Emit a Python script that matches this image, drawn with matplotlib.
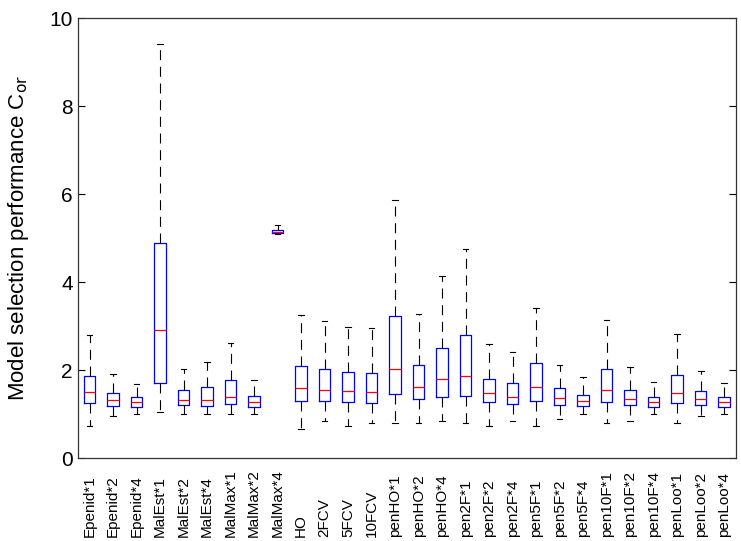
import matplotlib
matplotlib.use('Agg')
import matplotlib.pyplot as plt
import matplotlib.transforms as mtransforms

plt.rcParams['font.family'] = ['Liberation Sans', 'DejaVu Sans']

labels = ['Epenid*1', 'Epenid*2', 'Epenid*4', 'MalEst*1', 'MalEst*2', 'MalEst*4',
          'MalMax*1', 'MalMax*2', 'MalMax*4', 'HO', '2FCV', '5FCV', '10FCV',
          'penHO*1', 'penHO*2', 'penHO*4', 'pen2F*1', 'pen2F*2', 'pen2F*4',
          'pen5F*1', 'pen5F*2', 'pen5F*4', 'pen10F*1', 'pen10F*2', 'pen10F*4',
          'penLoo*1', 'penLoo*2', 'penLoo*4']

# values
whislo = [0.73, 0.96, 1.01, 1.05, 1.01, 1.01, 1.01, 1.01, 5.09, 0.65, 0.83, 0.73, 0.80,
          0.80, 0.80, 0.83, 0.80, 0.73, 0.84, 0.73, 0.88, 1.01, 0.80, 0.83, 1.01,
          0.80, 0.96, 1.01]
q1 = [1.26, 1.18, 1.17, 1.70, 1.20, 1.19, 1.22, 1.17, 5.11, 1.30, 1.29, 1.27, 1.26,
      1.45, 1.34, 1.39, 1.42, 1.27, 1.23, 1.30, 1.21, 1.18, 1.27, 1.20, 1.17,
      1.26, 1.20, 1.17]
med = [1.49, 1.31, 1.27, 2.92, 1.32, 1.32, 1.38, 1.27, 5.14, 1.59, 1.55, 1.53, 1.51,
       2.02, 1.62, 1.80, 1.87, 1.48, 1.39, 1.61, 1.36, 1.30, 1.55, 1.35, 1.27,
       1.47, 1.33, 1.27]
q3 = [1.87, 1.48, 1.38, 4.89, 1.54, 1.61, 1.78, 1.42, 5.18, 2.09, 2.03, 1.95, 1.94,
      3.22, 2.11, 2.49, 2.80, 1.80, 1.70, 2.17, 1.58, 1.44, 2.02, 1.55, 1.39,
      1.88, 1.52, 1.39]
whishi = [2.80, 1.92, 1.68, 9.41, 2.03, 2.19, 2.62, 1.78, 5.30, 3.26, 3.12, 2.97, 2.95,
          5.86, 3.27, 4.14, 4.74, 2.58, 2.41, 3.42, 2.11, 1.83, 3.13, 2.07, 1.73,
          2.81, 1.98, 1.71]

stats = []
for i in range(len(labels)):
    stats.append({'label': labels[i], 'whislo': whislo[i], 'q1': q1[i], 'med': med[i],
                  'q3': q3[i], 'whishi': whishi[i], 'fliers': []})

fig = plt.figure(figsize=(7.41, 5.41), dpi=100)
ax = fig.add_axes([0.105, 0.1534, 0.888, 0.8133])

pos = list(range(1, len(labels) + 1))
ax.bxp(stats, positions=pos, widths=0.5, showfliers=False,
       boxprops=dict(color='#0000ff', linewidth=0.9),
       medianprops=dict(color='#ff0000', linewidth=0.9),
       whiskerprops=dict(color='black', linestyle=(0, (9, 6)), linewidth=0.8),
       capprops=dict(color='black', linewidth=0.8),
       capwidths=0.25)

ax.set_xlim(0.5, len(labels) + 0.5)
ax.set_ylim(0, 10)
ax.set_yticks([0, 2, 4, 6, 8, 10])
ax.set_xticks([])
ax.tick_params(axis='y', direction='in', right=True, length=5, labelsize=15, width=0.8)
for s in ax.spines.values():
    s.set_color('#333333')
    s.set_linewidth(0.9)

# rotated labels, all starting at the same baseline near the bottom
trans = mtransforms.blended_transform_factory(ax.transData, fig.transFigure)
for p, lab in zip(pos, labels):
    ax.text(p, 0.007, lab, transform=trans, rotation=90, ha='center', va='bottom',
            fontsize=11)

ax.set_ylabel('Model selection performance C$_{\\mathrm{or}}$', fontsize=16)
ax.yaxis.set_label_coords(-0.071, 0.5)

fig.savefig('out.png', dpi=100)
